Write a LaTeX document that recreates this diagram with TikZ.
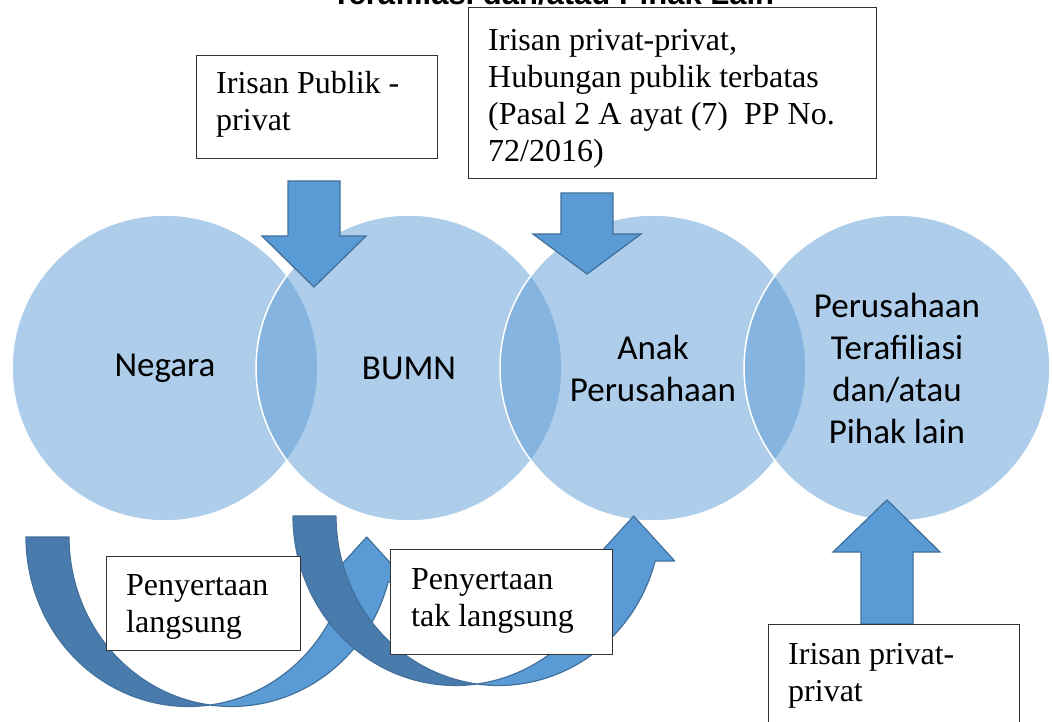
\documentclass[tikz,border=0pt]{standalone}
\usepackage{fontspec}
\setmainfont{Liberation Serif}
\newfontfamily\calib{Carlito}
\newfontfamily\arialb{Liberation Sans}
\definecolor{circ}{HTML}{5B9BD5}
\definecolor{arrfill}{HTML}{5B9BD5}
\definecolor{arredge}{HTML}{41719C}
\definecolor{arrdarkc}{HTML}{497CAD}
\definecolor{boxedge}{HTML}{333333}
\begin{document}
\begin{tikzpicture}[x=1pt,y=-1pt,
  bubble/.style={circle, minimum size=306pt, inner sep=0pt, fill=circ, fill opacity=0.5,
    text opacity=1, draw=white, draw opacity=1, line width=1.5pt,
    font=\calib\fontsize{35}{42}\selectfont, align=center, text=black},
  blockarrow/.style={fill=arrfill, draw=arredge, line width=1.3pt, line join=miter},
  arrlight/.style={fill=arrfill, draw=arredge, line width=1.2pt, line join=round},
  arrdark/.style={fill=arrdarkc, draw=arredge, line width=1.2pt, line join=round},
  textbox/.style={draw=boxedge, fill=white, line width=1.2pt, inner sep=0pt, anchor=north west},
  lbl/.style={anchor=base west, inner sep=0pt, align=left, font=\fontsize{32}{37}\selectfont},
  curvedup/.pic={
    \draw[arrlight] plot[domain=82.4:15.4,samples=50] ({162.5*cos(\x)},{169.5*sin(\x)})
      -- (137.2,45) -- (178.2,0) -- (219.2,45)
      -- plot[domain=15.4:97.6,samples=50] ({43+162.5*cos(\x)},{169.5*sin(\x)}) -- cycle;
    \draw[arrdark] plot[domain=180:82.4,samples=50] ({162.5*cos(\x)},{169.5*sin(\x)})
      -- plot[domain=97.6:180,samples=50] ({43+162.5*cos(\x)},{169.5*sin(\x)}) -- cycle;
  }]
\useasboundingbox (0,0) rectangle (1052,722);
\clip (0,0) rectangle (1052,722);

% title (cut off at the top)
\node[anchor=base, inner sep=0pt, font=\arialb\bfseries\fontsize{31}{37}\selectfont] (title) at (553,4.5) {Terafiliasi dan/atau Pihak Lain};

% circles
\node[bubble] (negara) at (165,368) {Negara};
\node[bubble] (bumn) at (409,368) {BUMN};
\node[bubble] (anak) at (653,368) {Anak\\Perusahaan};
\node[bubble] (afil) at (897,368) {Perusahaan\\Terafiliasi\\dan/atau\\Pihak lain};

% block arrows
\draw[blockarrow] (288,181) -- (340,181) -- (340,236) -- (366,236) -- (314,287) -- (262,236) -- (288,236) -- cycle;
\draw[blockarrow] (561,193) -- (613,193) -- (613,234) -- (641,234) -- (587,274) -- (533,234) -- (561,234) -- cycle;
\draw[blockarrow] (861,624) -- (913,624) -- (913,552) -- (940,552) -- (887,500) -- (833,552) -- (861,552) -- cycle;

% curved arrows
\pic (cvA) at (188.5,537) {curvedup};
\pic (cvB) at (455.5,516) {curvedup};

% text boxes (label anchor = baseline of the last line)
\node[textbox, minimum width=241pt, minimum height=103pt] (b1) at (196,55) {};
\node[lbl] (t1) at (216,131) {Irisan Publik -\\privat};

\node[textbox, minimum width=408pt, minimum height=171pt] (b2) at (468,7) {};
\node[lbl] (t2) at (488,162) {Irisan privat-privat,\\Hubungan publik terbatas\\(Pasal 2 A ayat (7)~~PP No.\\72/2016)};

\node[textbox, minimum width=194pt, minimum height=94pt] (b3) at (106,556) {};
\node[lbl] (t3) at (126,632) {Penyertaan\\langsung};

\node[textbox, minimum width=222pt, minimum height=105pt] (b4) at (390,549) {};
\node[lbl] (t4) at (411,626) {Penyertaan\\tak langsung};

\node[textbox, minimum width=251pt, minimum height=120pt] (b5) at (768,624) {};
\node[lbl] (t5) at (788,701) {Irisan privat-\\privat};
\end{tikzpicture}
\end{document}
